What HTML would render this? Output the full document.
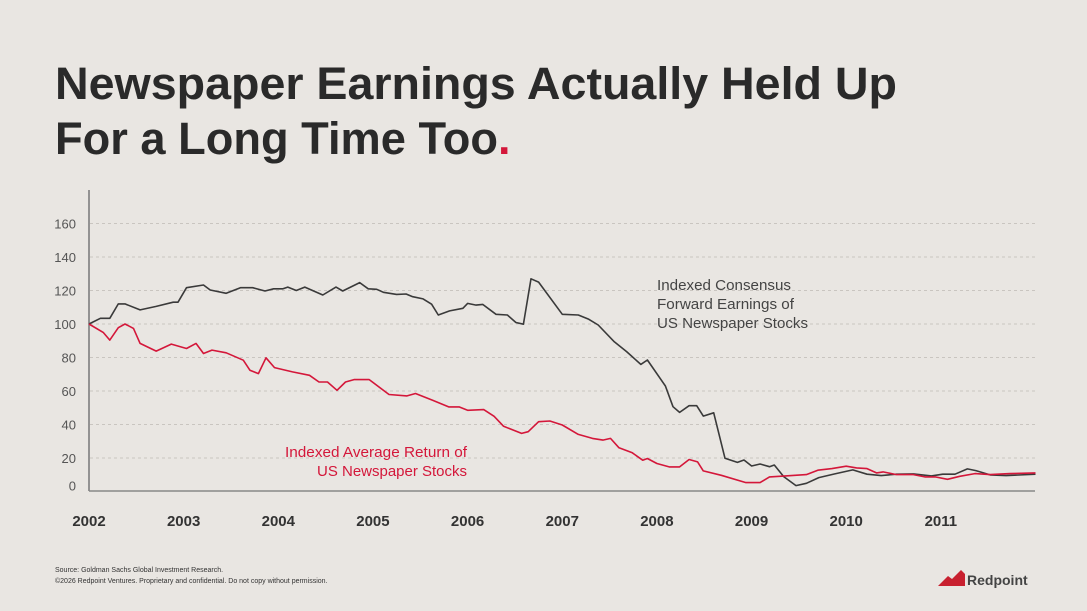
<!DOCTYPE html>
<html><head><meta charset="utf-8">
<style>
html,body{margin:0;padding:0;background:#e9e6e2;}
svg{display:block;font-family:"Liberation Sans",sans-serif;}
</style></head>
<body>
<svg width="1087" height="611" viewBox="0 0 1087 611">
<rect width="1087" height="611" fill="#e9e6e2"/>
<text x="55" y="99" font-size="45" font-weight="bold" fill="#2a2a2a" textLength="842" lengthAdjust="spacingAndGlyphs">Newspaper Earnings Actually Held Up</text>
<text x="55" y="154" font-size="45" font-weight="bold" fill="#2a2a2a"><tspan textLength="443" lengthAdjust="spacingAndGlyphs">For a Long Time Too</tspan><tspan fill="#d4173a">.</tspan></text>
<g id="grid"></g>
<g id="yticks"></g>
<g id="xticks"></g>
<line x1="89" y1="190" x2="89" y2="491" stroke="#777" stroke-width="1.5"/>
<line x1="89" y1="491" x2="1035" y2="491" stroke="#888" stroke-width="1.5"/>
<path id="earn" fill="none" stroke="#3a3a3a" stroke-width="1.6" stroke-linejoin="round"/>
<path id="ret" fill="none" stroke="#d4173a" stroke-width="1.6" stroke-linejoin="round"/>
<g font-size="14.5" fill="#444">
<text x="657" y="290" textLength="134" lengthAdjust="spacingAndGlyphs">Indexed Consensus</text>
<text x="657" y="309" textLength="137" lengthAdjust="spacingAndGlyphs">Forward Earnings of</text>
<text x="657" y="328" textLength="151" lengthAdjust="spacingAndGlyphs">US Newspaper Stocks</text>
</g>
<g font-size="14.5" fill="#d4173a">
<text x="285" y="457" textLength="182" lengthAdjust="spacingAndGlyphs">Indexed Average Return of</text>
<text x="317" y="476" textLength="150" lengthAdjust="spacingAndGlyphs">US Newspaper Stocks</text>
</g>
<g font-size="7" fill="#333">
<text x="55" y="572">Source: Goldman Sachs Global Investment Research.</text>
<text x="55" y="583">©2026 Redpoint Ventures. Proprietary and confidential. Do not copy without permission.</text>
</g>
<g>
<polygon points="938,586 948,576 952,579 961,570 965,574 965,586" fill="#c8202f"/>
<text x="967" y="585" font-size="14" font-weight="bold" fill="#444">Redpoint</text>
</g>
</svg>
<script>
const yTicks=[0,20,40,60,80,100,120,140,160];
const xTicks=[2002,2003,2004,2005,2006,2007,2008,2009,2010,2011];
const earnYears=[2002.0,2002.12,2002.22,2002.31,2002.38,2002.54,2002.71,2002.89,2002.94,2003.03,2003.21,2003.28,2003.45,2003.6,2003.73,2003.86,2003.95,2004.05,2004.1,2004.19,2004.28,2004.47,2004.61,2004.68,2004.86,2004.95,2005.04,2005.11,2005.25,2005.35,2005.42,2005.53,2005.62,2005.69,2005.81,2005.95,2006.0,2006.09,2006.16,2006.3,2006.42,2006.51,2006.59,2006.67,2006.75,2007.0,2007.17,2007.28,2007.38,2007.55,2007.68,2007.83,2007.9,2008.09,2008.17,2008.24,2008.34,2008.42,2008.49,2008.6,2008.72,2008.85,2008.92,2009.0,2009.09,2009.19,2009.24,2009.34,2009.47,2009.58,2009.71,2009.88,2010.07,2010.22,2010.37,2010.53,2010.71,2010.9,2011.02,2011.15,2011.28,2011.37,2011.52,2011.69,2012.0];
const earnValues=[100,103.4,103.4,112,112,108.4,110.5,113,113,121.7,123.3,120.3,118.3,121.7,121.7,119.7,121,121,122,120,122,117.3,122,119.7,124.7,121,120.7,118.9,117.7,117.9,116.3,115,111.8,105.4,107.8,109.4,112.3,111.3,111.7,105.8,105.4,100.9,99.9,127,125,105.8,105.4,102.8,99.4,89.4,83.5,75.9,78.5,63,50.6,47.2,51.2,51.2,45,47,19.8,17.4,18.8,15.2,16.4,14.8,15.8,8.9,3.5,4.9,8.3,10.5,12.9,10.3,9.5,10.3,10.5,9.3,10.3,10.3,13.5,12.5,9.9,9.5,10.3];
const retYears=[2002.0,2002.15,2002.22,2002.31,2002.38,2002.47,2002.54,2002.71,2002.87,2003.03,2003.13,2003.21,2003.3,2003.45,2003.63,2003.7,2003.79,2003.87,2003.96,2004.15,2004.33,2004.43,2004.52,2004.62,2004.71,2004.8,2004.96,2005.17,2005.36,2005.45,2005.63,2005.8,2005.91,2006.0,2006.17,2006.28,2006.38,2006.57,2006.64,2006.75,2006.87,2007.0,2007.17,2007.32,2007.43,2007.51,2007.6,2007.74,2007.85,2007.9,2008.0,2008.13,2008.24,2008.34,2008.43,2008.49,2008.68,2008.94,2009.09,2009.19,2009.36,2009.58,2009.7,2009.85,2010.0,2010.11,2010.22,2010.32,2010.39,2010.53,2010.71,2010.83,2010.94,2011.07,2011.2,2011.36,2011.52,2011.73,2012.0];
const retValues=[100,95,90.4,97.8,100,97.4,88.4,83.8,88,85.4,88.4,82.4,84.4,82.8,78.4,72.4,70.4,79.8,74,71.4,69.4,65.4,65.4,60.4,65.4,66.8,66.8,57.9,57.1,58.5,54.5,50.5,50.5,48.5,48.9,44.9,38.9,34.7,35.7,41.7,42.1,39.7,34.1,31.7,30.7,31.7,26.1,23.1,18.7,19.7,16.7,14.7,14.7,19.1,17.7,12.3,9.7,5.3,5.3,8.7,9.3,10.1,12.7,13.7,15.1,14.1,13.7,11.1,11.7,10.1,10.1,8.7,8.7,7.3,9.1,10.7,10.1,10.7,11.1];
const NS='http://www.w3.org/2000/svg';
function xs(t){return 89+(t-2002)*94.65;}
function ys(v){return 491.5-v*1.675;}
const grid=document.getElementById('grid'),yt=document.getElementById('yticks'),xt=document.getElementById('xticks');
yTicks.forEach(v=>{
  if(v>0){const l=document.createElementNS(NS,'line');
  l.setAttribute('x1',90);l.setAttribute('x2',1035);l.setAttribute('y1',ys(v));l.setAttribute('y2',ys(v));
  l.setAttribute('stroke','#c9c5c0');l.setAttribute('stroke-dasharray','3,3');
  
  
  grid.appendChild(l);}
  const t=document.createElementNS(NS,'text');
  t.setAttribute('x',76);t.setAttribute('y',(v===0?ys(v)-1:ys(v)+5));t.setAttribute('text-anchor','end');
  t.setAttribute('font-size','13');t.setAttribute('fill','#555');t.textContent=v;
  
  
  yt.appendChild(t);
});
xTicks.forEach(v=>{
  const t=document.createElementNS(NS,'text');
  t.setAttribute('x',xs(v));t.setAttribute('y',526);t.setAttribute('text-anchor','middle');
  t.setAttribute('font-size','15');t.setAttribute('font-weight','bold');t.setAttribute('fill','#333');t.textContent=v;
  
  
  xt.appendChild(t);
});
function path(xa,va){return xa.map((t,i)=>(i?'L':'M')+xs(t).toFixed(1)+','+ys(va[i]).toFixed(1)).join(' ');}
document.getElementById('earn').setAttribute('d',path(earnYears,earnValues));
document.getElementById('ret').setAttribute('d',path(retYears,retValues));
</script>
</body></html>
